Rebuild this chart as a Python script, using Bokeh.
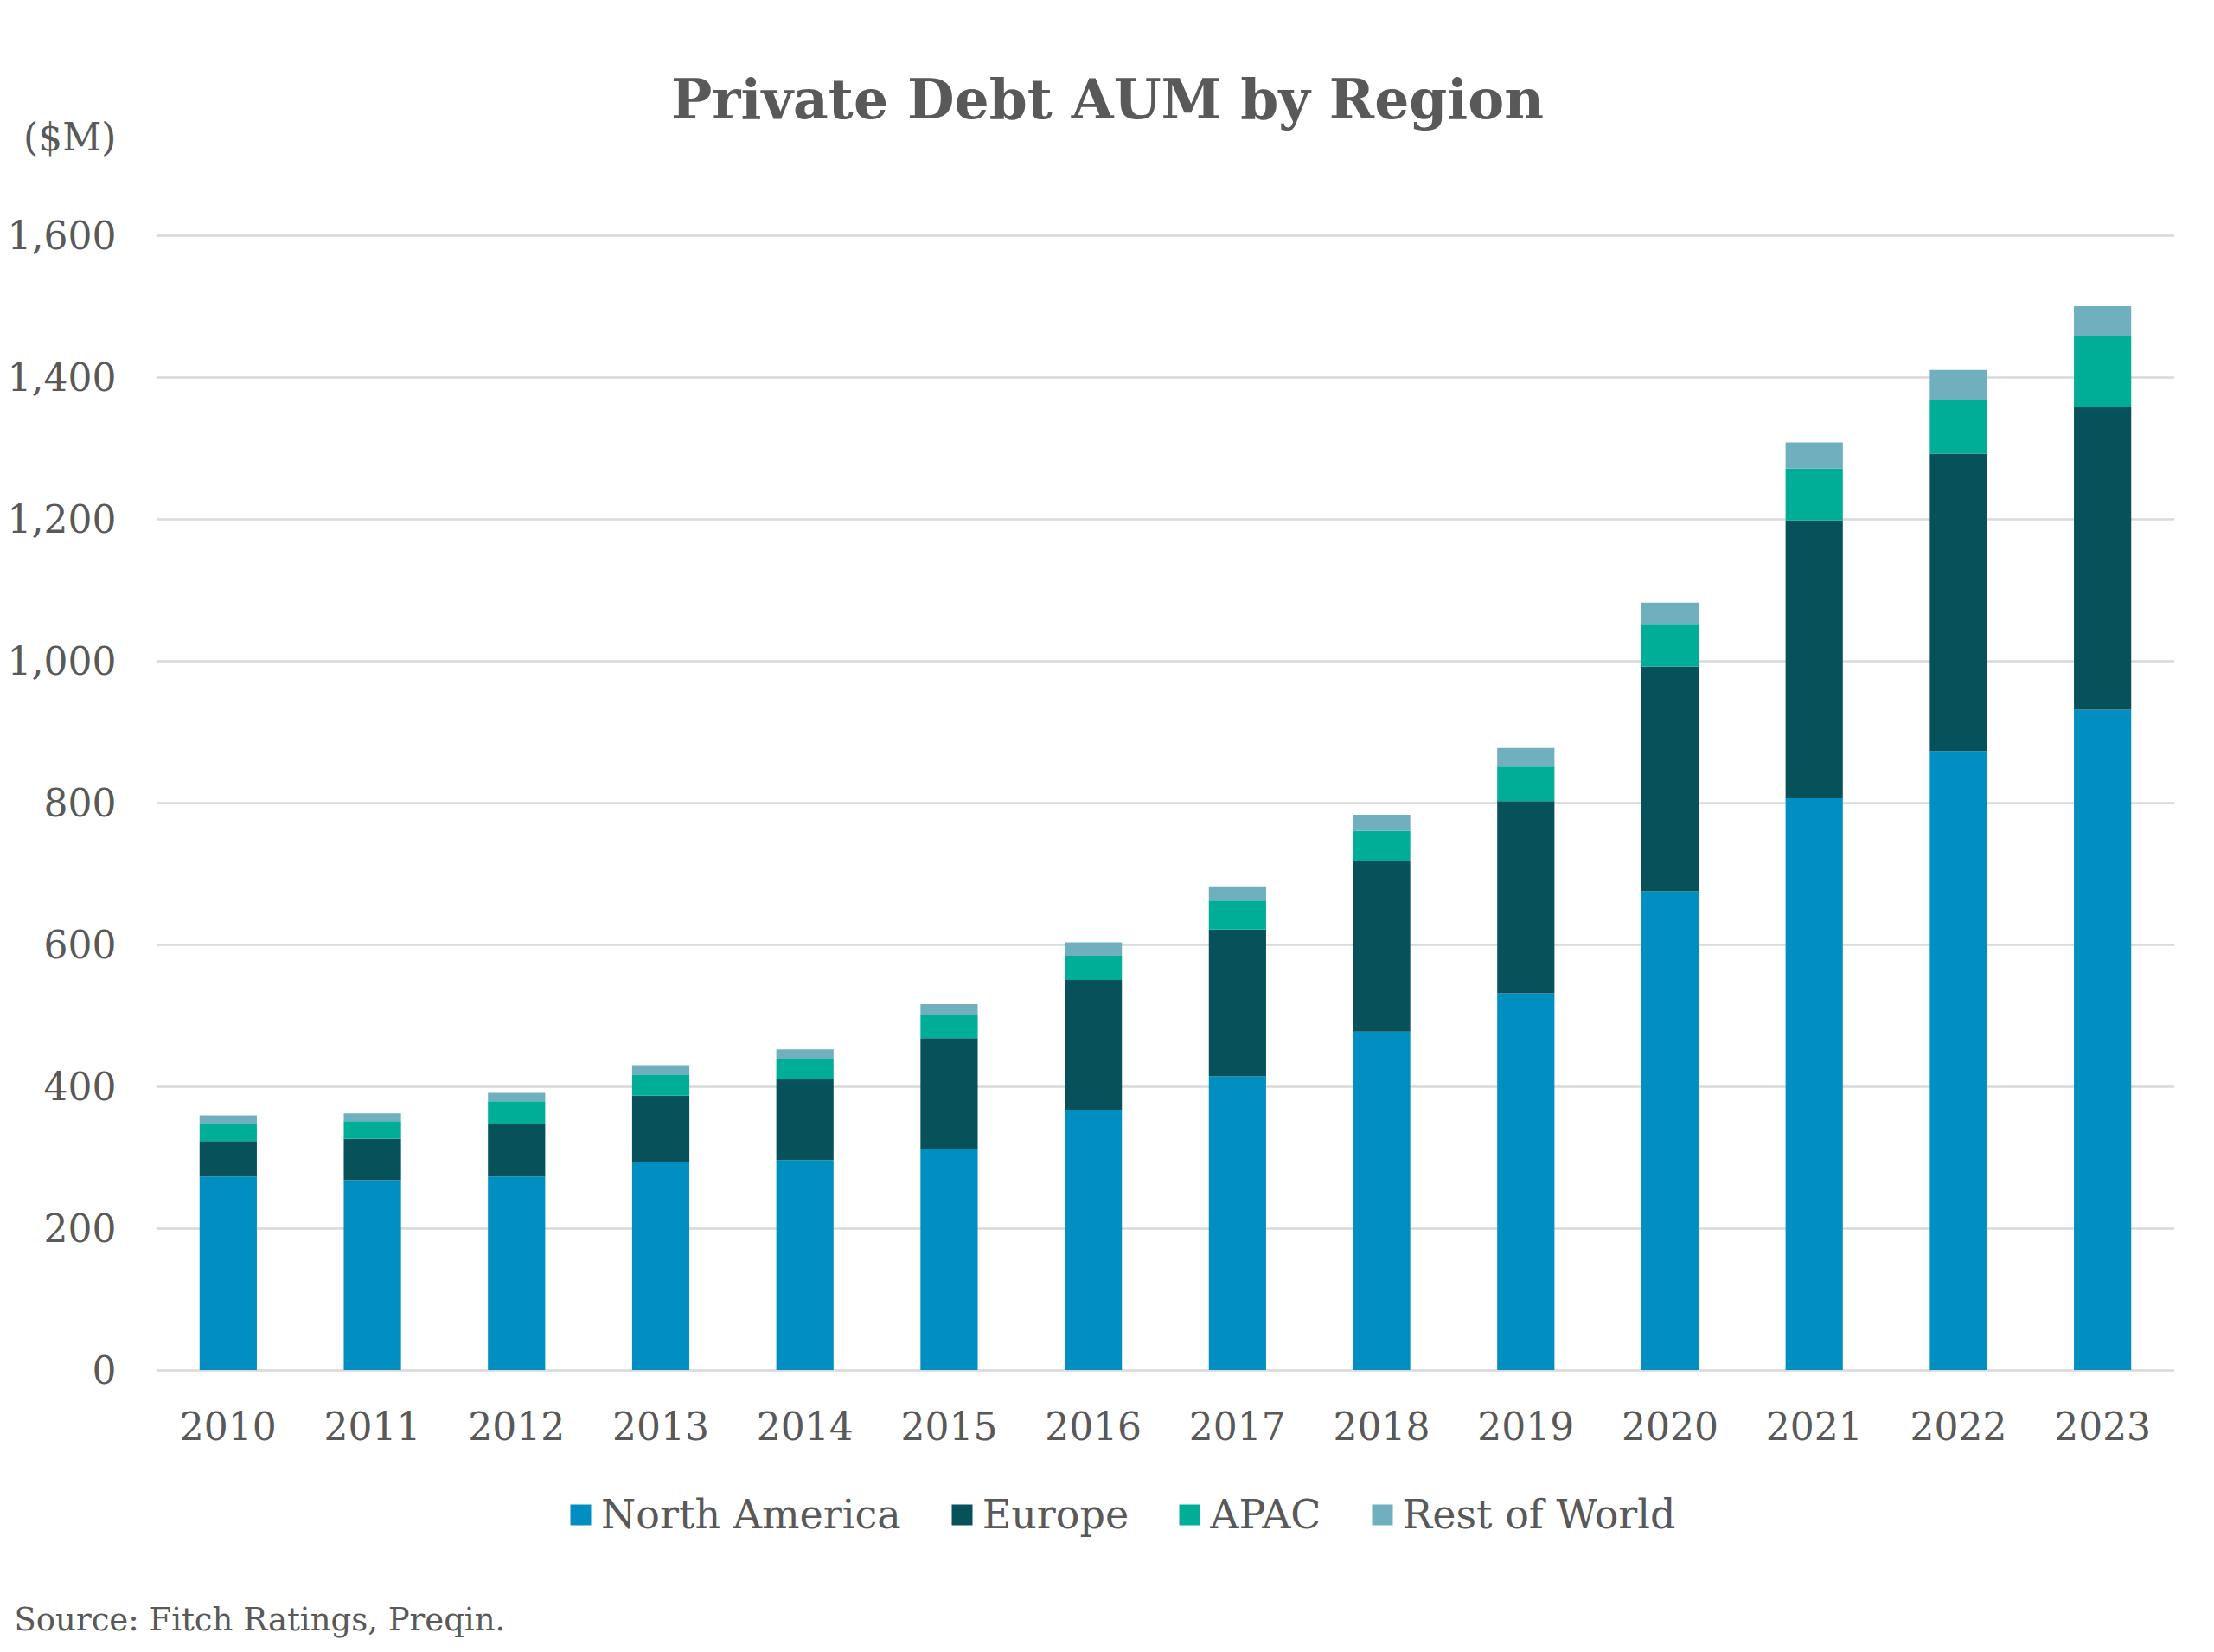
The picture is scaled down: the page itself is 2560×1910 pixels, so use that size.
from bokeh.plotting import figure
from bokeh.models import (FactorRange, Range1d, Label, Legend, LegendItem,
                          NumeralTickFormatter, FixedTicker, Title)
from bokeh.embed import file_html
from bokeh.resources import INLINE

years = ["2010", "2011", "2012", "2013", "2014", "2015", "2016",
         "2017", "2018", "2019", "2020", "2021", "2022", "2023"]
north_america = [273, 268, 273, 293, 296, 311, 367, 414, 477, 531, 675, 806, 873, 931]
europe = [50, 58, 74, 94, 115, 157, 183, 207, 241, 271, 317, 392, 419, 427]
apac = [24, 25, 32, 29, 28, 32, 34, 41, 42, 49, 59, 73, 75, 100]
rest_of_world = [12, 11, 12, 14, 13, 16, 19, 20, 23, 26, 31, 37, 43, 42]

series = ["North America", "Europe", "APAC", "Rest of World"]
colors = ["#008FC0", "#06515A", "#00AE98", "#6FAFBE"]
y_ticks = [0, 200, 400, 600, 800, 1000, 1200, 1400, 1600]
unit_tick = 1738  # where the "($M)" caption sits on the value axis

title_text = "Private Debt AUM by Region"
unit_text = "($M)"
source_text = "Source: Fitch Ratings, Preqin."

TEXT = "#595959"
FONT = "DejaVu Serif"
W, H = 2544, 1894
LEFT, RIGHT = 180, 30
BOTTOM = 46                 # panel below the frame holds the source line
FRAME_H = H - BOTTOM        # frame starts at the top of the canvas
PX_PER_UNIT = 0.82
ZERO_Y = 1583.5             # canvas y of value 0

p = figure(width=W, height=H, x_range=FactorRange(*years, range_padding=0),
           y_range=Range1d(-(FRAME_H - ZERO_Y) / PX_PER_UNIT, ZERO_Y / PX_PER_UNIT),
           output_backend="svg", toolbar_location=None,
           min_border_left=LEFT, min_border_right=RIGHT, min_border_top=0,
           min_border_bottom=BOTTOM)
p.outline_line_color = None

data = {"years": years, "North America": north_america, "Europe": europe,
        "APAC": apac, "Rest of World": rest_of_world}
rs = p.vbar_stack(series, x="years", width=0.397, color=colors, source=data,
                  line_color=None)

p.xgrid.grid_line_color = None
p.ygrid.ticker = FixedTicker(ticks=y_ticks)
p.ygrid.grid_line_color = "#D9D9D9"
p.ygrid.grid_line_width = 2.5

p.yaxis.ticker = FixedTicker(ticks=y_ticks + [unit_tick])
p.yaxis.formatter = NumeralTickFormatter(format="0,0")
p.yaxis.major_label_overrides = {unit_tick: unit_text}
p.xaxis.fixed_location = 0

for ax in (p.xaxis[0], p.yaxis[0]):
    ax.axis_line_color = None
    ax.major_tick_line_color = None
    ax.minor_tick_line_color = None
    ax.major_tick_out = 0
    ax.major_tick_in = 0
    ax.minor_tick_out = 0
    ax.major_label_text_font = FONT
    ax.major_label_text_color = TEXT
    ax.major_label_text_font_size = "44px"
p.yaxis.major_label_standoff = 46
p.xaxis.major_label_standoff = 48

# chart title, inside the tall frame (y in data units, x in px from frame left)
p.add_layout(Label(x=1100, y=(ZERO_Y - 114.5) / PX_PER_UNIT, x_units="screen",
                   text=title_text, text_align="center", text_baseline="middle",
                   text_font=FONT, text_font_style="bold",
                   text_font_size="63px", text_color=TEXT))

items = [LegendItem(label=s, renderers=[r]) for s, r in zip(series, rs)]
legend = Legend(items=items, orientation="horizontal",
                location=(476, FRAME_H - 1750 - 28),
                glyph_width=30, glyph_height=30, label_standoff=9, spacing=55,
                padding=0, margin=0, border_line_color=None,
                background_fill_alpha=0, label_text_font=FONT,
                label_text_font_size="46px", label_text_color=TEXT)
p.add_layout(legend, "center")

p.add_layout(Title(text=source_text, align="left", offset=16 - LEFT,
                   vertical_align="bottom", standoff=0, text_font=FONT,
                   text_font_style="normal", text_font_size="37px",
                   text_color=TEXT), "below")

open("out.html", "w").write(file_html(p, INLINE))
